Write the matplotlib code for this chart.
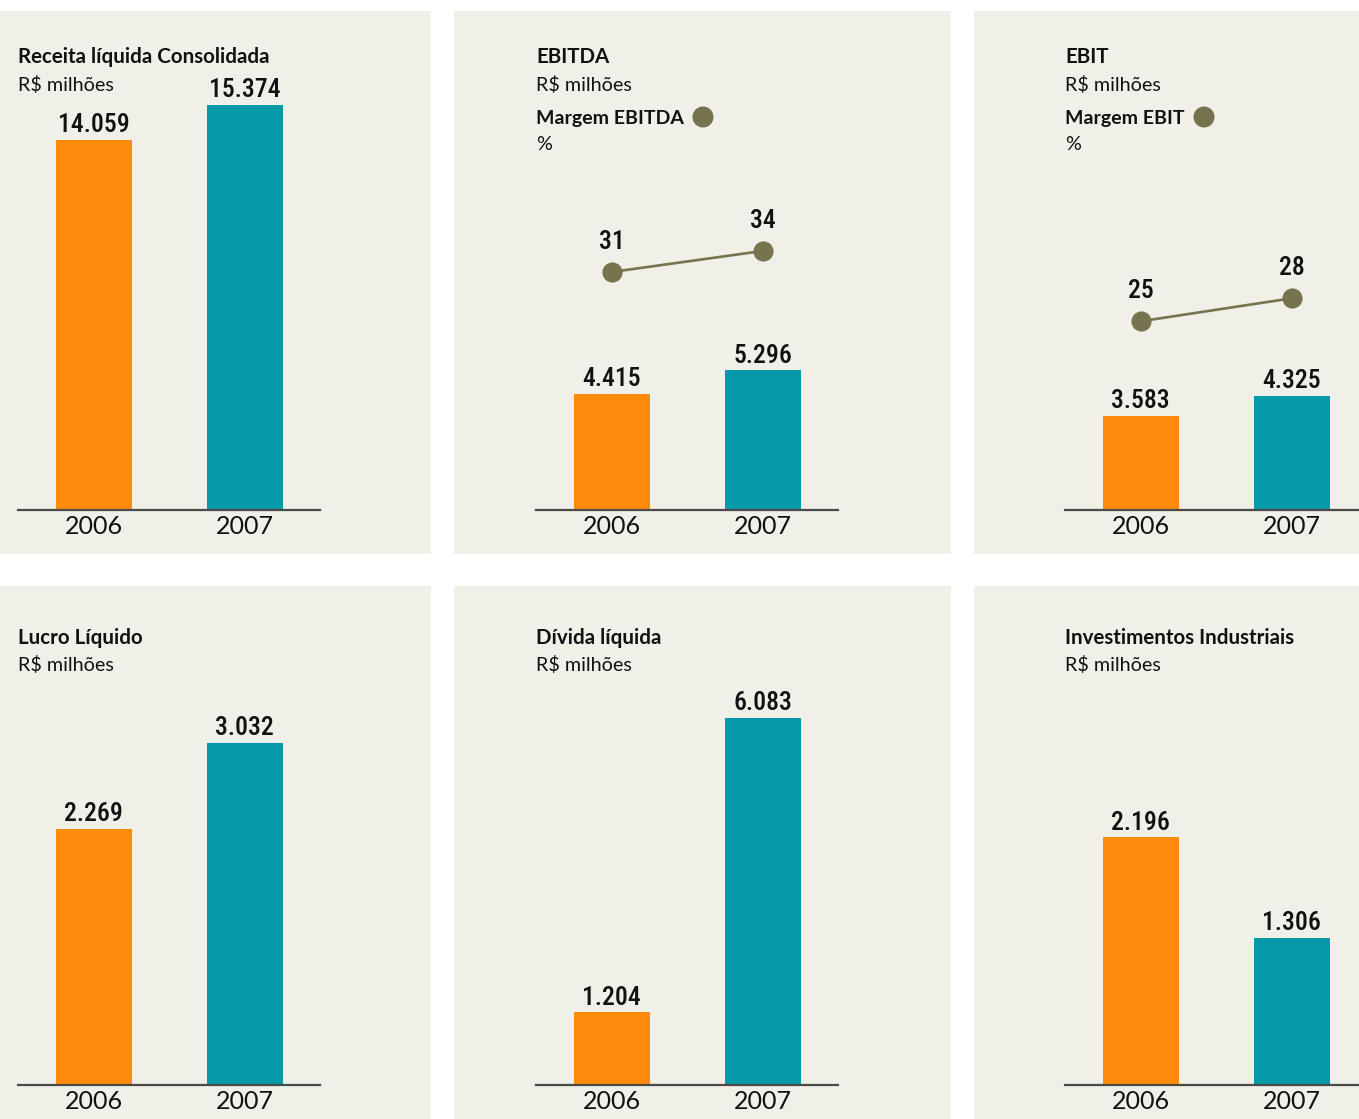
import matplotlib
matplotlib.use('Agg')
import matplotlib.pyplot as plt
from matplotlib.patches import Rectangle, Ellipse
from matplotlib import font_manager as fm

W, H = 1359, 1119
DPI = 100

years = ['2006', '2007']
titles = ['Receita líquida Consolidada', 'EBITDA', 'EBIT',
          'Lucro Líquido', 'Dívida líquida', 'Investimentos Industriais']
subtitle = 'R$ milhões'
receita = [14059, 15374]
ebitda = [4415, 5296]
ebit = [3583, 4325]
lucro = [2269, 3032]
divida = [1204, 6083]
invest = [2196, 1306]
margem_ebitda = [31, 34]
margem_ebit = [25, 28]
margem_labels = ['Margem EBITDA', 'Margem EBIT']

ORANGE = '#fd8a0a'
TEAL = '#049aa9'
OLIVE = '#75744f'
BG = '#f0efe8'
INK = '#111111'

names = {f.name for f in fm.fontManager.ttflist}
COND = 'Liberation Sans Narrow' if 'Liberation Sans Narrow' in names else (
    'Roboto Condensed' if 'Roboto Condensed' in names else 'Roboto')
REG = 'Lato' if 'Lato' in names else 'DejaVu Sans'

fig = plt.figure(figsize=(W / DPI, H / DPI), dpi=DPI)
fig.patch.set_facecolor('white')


def fx(x):
    return x / W


def fy(y):
    return 1 - y / H


def ftext(x, y, s, **kw):
    fig.text(fx(x), fy(y), s, va='baseline', ha='left', color=INK, **kw)


# panel backgrounds (x0, y0, x1, y1) in pixels
bgs = [(0, 11, 431, 554), (454, 11, 951, 554), (974, 11, 1359, 554),
       (0, 586, 431, 1119), (454, 586, 951, 1119), (974, 586, 1359, 1119)]
for x0, y0, x1, y1 in bgs:
    fig.add_artist(Rectangle((fx(x0), fy(y1)), fx(x1 - x0), (y1 - y0) / H,
                             transform=fig.transFigure, facecolor=BG,
                             edgecolor='none', zorder=0))

series = [receita, ebitda, ebit, lucro, divida, invest]
axis_left = [18, 536, 1065, 18, 536, 1065]
baseline = [510, 510, 510, 1085, 1085, 1085]
AX_H = 480
scale = [0.02635, 0.02635, 0.02635, 0.1128, 0.0603, 0.1128]  # px per unit

for i in range(6):
    ax = fig.add_axes([fx(axis_left[i]), fy(baseline[i]), 302 / W, AX_H / H])
    ax.patch.set_visible(False)
    ax.set_xlim(-0.5, 1.5)
    ax.set_ylim(0, AX_H / scale[i])
    vals = series[i]
    ax.bar([0.003, 1.003], vals, width=0.503, color=[ORANGE, TEAL], zorder=2)
    for s in ['top', 'right', 'left']:
        ax.spines[s].set_visible(False)
    ax.spines['bottom'].set_color('#4a4a48')
    ax.spines['bottom'].set_linewidth(1.6)
    ax.spines['bottom'].set_zorder(3)
    ax.set_xticks([])
    ax.set_yticks([])
    for j, v in enumerate(vals):
        ax.annotate(f'{v:,}'.replace(',', '.'), xy=(j, v), xytext=(0, 5.6),
                    textcoords='offset points', ha='center', va='baseline',
                    fontsize=18.5, family=COND, fontweight='medium', color=INK)
        ax.annotate(years[j], xy=(j, 0), xytext=(0, -17.3),
                    textcoords='offset points', ha='center', va='baseline',
                    fontsize=18, family=REG, color=INK)

    # margin lines
    if i in (1, 2):
        m = margem_ebitda if i == 1 else margem_ebit
        ax2 = ax.twinx()
        ax2.patch.set_visible(False)
        ax2.set_xlim(-0.5, 1.5)
        if i == 1:
            ax2.set_ylim(-3, -3 + AX_H / 7.0)
        else:
            ax2.set_ylim(0.4, 0.4 + AX_H / 7.67)
        ax2.plot([0, 1], m, color=OLIVE, lw=1.9, marker='o', markersize=13.5,
                 zorder=4)
        for s in ax2.spines.values():
            s.set_visible(False)
        ax2.set_yticks([])
        for j, v in enumerate(m):
            ax2.annotate(str(v), xy=(j, v), xytext=(0, 16.5),
                         textcoords='offset points', ha='center',
                         va='baseline', fontsize=18.5, family=COND,
                         fontweight='medium', color=INK)

# titles
title_pos = [(18, 63, 91), (536, 63, 91), (1065, 63, 91),
             (18, 644, 671), (536, 644, 671), (1065, 644, 671)]
for i, (x, yt, ys) in enumerate(title_pos):
    ftext(x, yt, titles[i], fontsize=14.8, family=REG, fontweight='bold')
    ftext(x, ys, subtitle, fontsize=14.2, family=REG)

# margin legends
for k, (x, dotx) in enumerate([(536, 703), (1065, 1204)]):
    ftext(x, 124, margem_labels[k], fontsize=14, family=REG,
          fontweight='bold')
    ftext(x, 150, '%', fontsize=14.2, family=REG)
    fig.add_artist(Ellipse((fx(dotx), fy(117)), 21 / W, 21 / H,
                           transform=fig.transFigure, facecolor=OLIVE,
                           edgecolor='none'))

fig.savefig('out.png', dpi=DPI, facecolor='white')
